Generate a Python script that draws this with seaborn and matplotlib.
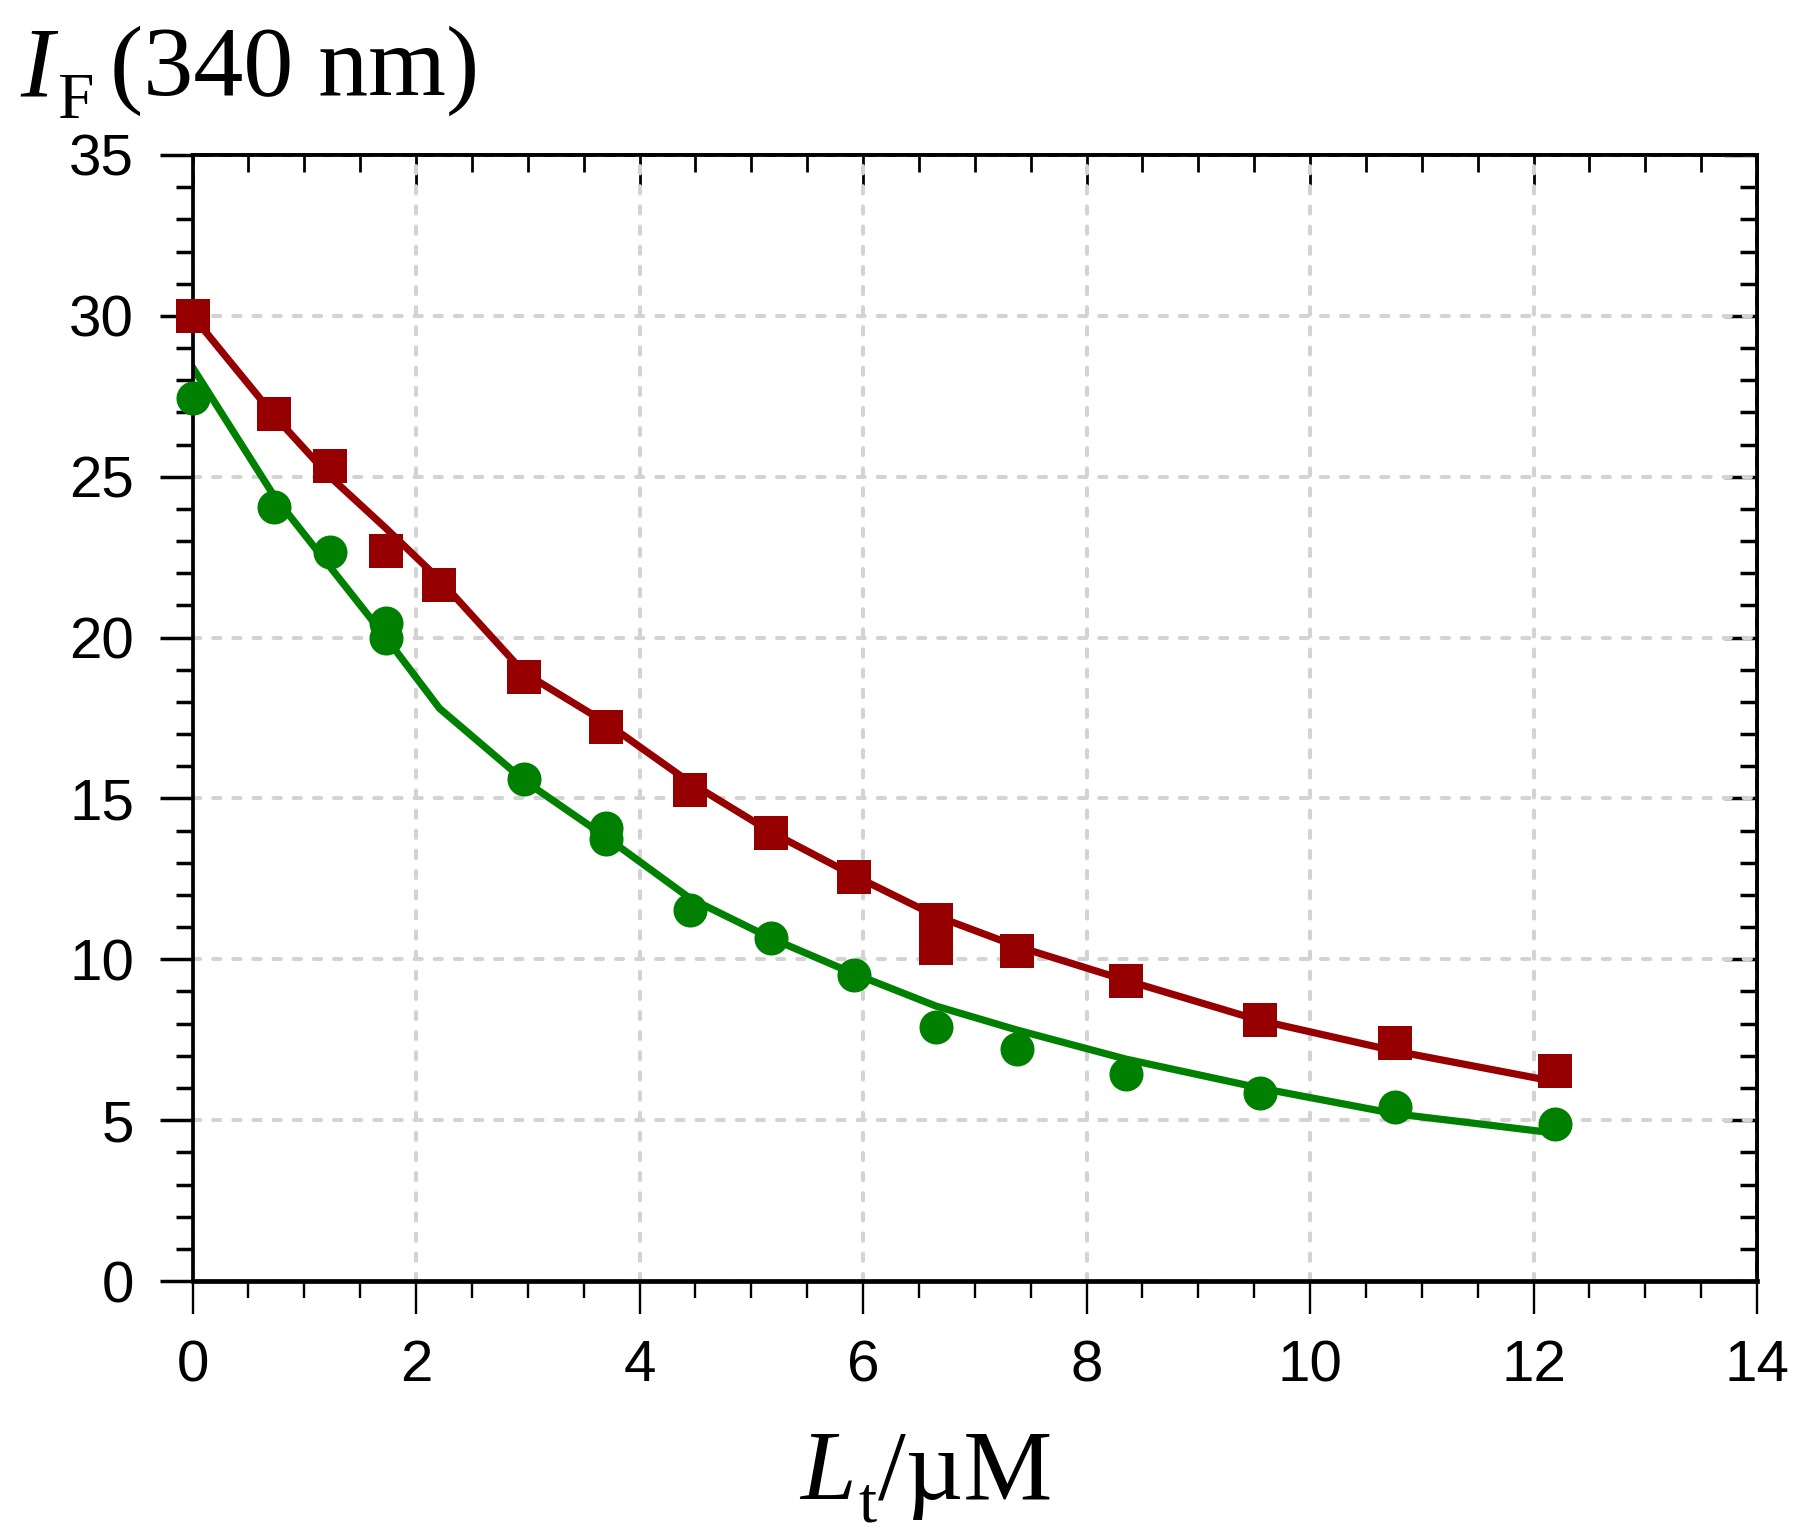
import matplotlib
matplotlib.use("Agg")
import matplotlib.pyplot as plt
import seaborn as sns
import pandas as pd
from matplotlib.ticker import MultipleLocator

# ---- data ----
red_x = [0, 0.73, 1.23, 1.73, 2.21, 2.97, 3.70, 4.45, 5.18, 5.92, 6.65, 6.65, 7.38, 8.35, 9.55, 10.76, 12.19]
red_y = [30.0, 26.96, 25.34, 22.68, 21.64, 18.77, 17.23, 15.25, 13.93, 12.56, 11.23, 10.34, 10.27, 9.33, 8.11, 7.39, 6.53]

green_x = [0, 0.73, 1.23, 1.73, 1.73, 2.97, 3.70, 3.70, 4.45, 5.18, 5.92, 6.65, 7.38, 8.35, 9.55, 10.76, 12.19]
green_y = [27.46, 24.05, 22.65, 20.46, 20.0, 15.61, 14.07, 13.75, 11.52, 10.66, 9.51, 7.9, 7.21, 6.42, 5.85, 5.42, 4.88]

fit_x = [0, 0.73, 1.23, 1.73, 2.21, 2.97, 3.70, 4.45, 5.18, 5.92, 6.65, 7.38, 8.35, 9.55, 10.76, 12.19]
red_fit = [30.0, 26.9, 25.0, 23.4, 21.8, 18.9, 17.35, 15.5, 13.95, 12.6, 11.35, 10.4, 9.35, 8.1, 7.15, 6.2]
green_fit = [28.4, 24.4, 22.2, 20.0, 17.8, 15.55, 13.8, 11.9, 10.65, 9.55, 8.55, 7.8, 6.9, 6.0, 5.2, 4.6]

x_ticks = [0, 2, 4, 6, 8, 10, 12, 14]
y_ticks = [0, 5, 10, 15, 20, 25, 30, 35]

RED = "#960000"
GREEN = "#008000"

sns.set_style("ticks")
plt.rcParams["font.family"] = ["Liberation Sans", "DejaVu Sans"]
plt.rcParams["text.color"] = "black"
plt.rcParams["xtick.color"] = "black"
plt.rcParams["ytick.color"] = "black"
plt.rcParams["xtick.labelcolor"] = "black"
plt.rcParams["ytick.labelcolor"] = "black"
plt.rcParams["axes.edgecolor"] = "black"

W, H = 1811, 1536
fig = plt.figure(figsize=(W / 100, H / 100), dpi=100)
ax = fig.add_axes([0.1063, 0.166, 0.9702 - 0.1063, 0.8991 - 0.166])

df_red = pd.DataFrame({"x": red_x, "y": red_y})
df_green = pd.DataFrame({"x": green_x, "y": green_y})
df_fit = pd.DataFrame({"x": fit_x, "red": red_fit, "green": green_fit})

sns.lineplot(data=df_fit, x="x", y="red", color=RED, linewidth=5.2, ax=ax, zorder=3, sort=False)
sns.lineplot(data=df_fit, x="x", y="green", color=GREEN, linewidth=5.2, ax=ax, zorder=3, sort=False)
sns.scatterplot(data=df_red, x="x", y="y", marker="s", s=580, color=RED, linewidth=0, ax=ax,
                zorder=7, clip_on=False)
sns.scatterplot(data=df_green, x="x", y="y", marker="o", s=600, color=GREEN, linewidth=0, ax=ax,
                zorder=7, clip_on=False)

ax.set_xlim(0, 14)
ax.set_ylim(0, 35)
ax.set_xticks(x_ticks)
ax.set_yticks(y_ticks)
ax.xaxis.set_minor_locator(MultipleLocator(0.5))
ax.yaxis.set_minor_locator(MultipleLocator(1))
ax.set_xticklabels([str(v) for v in x_ticks])
ax.set_yticklabels([str(v) for v in y_ticks])
ax.set_xlabel("")
ax.set_ylabel("")

ax.grid(True, which="major", color="#d3d3d3", linewidth=2.9, linestyle=(0, (1.8, 3.2)),
        dash_capstyle="round", zorder=0)
ax.set_axisbelow(True)

for name, sp in ax.spines.items():
    sp.set_visible(True)
    sp.set_linewidth(2.7)
    sp.set_color("black")
    sp.set_zorder(5)
ax.spines["bottom"].set_linewidth(3.4)

ax.tick_params(axis="x", which="major", direction="out", length=24, width=1.7, pad=18,
               labelsize=42, top=False, bottom=True)
ax.tick_params(axis="x", which="minor", direction="out", length=12.5, width=1.7, top=False, bottom=True)
ax.tick_params(axis="y", which="major", direction="out", length=24, width=2.5, pad=18,
               labelsize=42, left=True, right=False)
ax.tick_params(axis="y", which="minor", direction="out", length=12.5, width=2.5, left=True, right=False)

# inward ticks on top and right
top = ax.secondary_xaxis("top")
top.set_xticks(x_ticks)
top.xaxis.set_minor_locator(MultipleLocator(0.5))
top.tick_params(which="major", direction="in", length=24, width=2.0, labeltop=False)
top.tick_params(which="minor", direction="in", length=12.5, width=2.0)
top.spines["top"].set_linewidth(2.7)

right = ax.secondary_yaxis("right")
right.set_yticks(y_ticks)
right.yaxis.set_minor_locator(MultipleLocator(1))
right.tick_params(which="major", direction="in", length=24, width=2.5, labelright=False)
right.tick_params(which="minor", direction="in", length=12.5, width=2.5)
right.spines["right"].set_linewidth(2.7)

SERIF = "Liberation Serif"


def put(xpx, ypx, s, size, style="normal"):
    fig.text(xpx / W, 1 - ypx / H, s, fontsize=size, family=SERIF, style=style,
             ha="left", va="baseline")


# y-axis title: I_F (340 nm)
put(20, 95, "I", 72, "italic")
put(57, 118, "F", 47)
put(110, 95, "(340 nm)", 72)

# x-axis title: L_t / µM
put(800, 1499, "L", 72, "italic")
put(858, 1521, "t", 47)
put(878, 1499, "/µM", 72)

fig.savefig("out.png", dpi=100)
